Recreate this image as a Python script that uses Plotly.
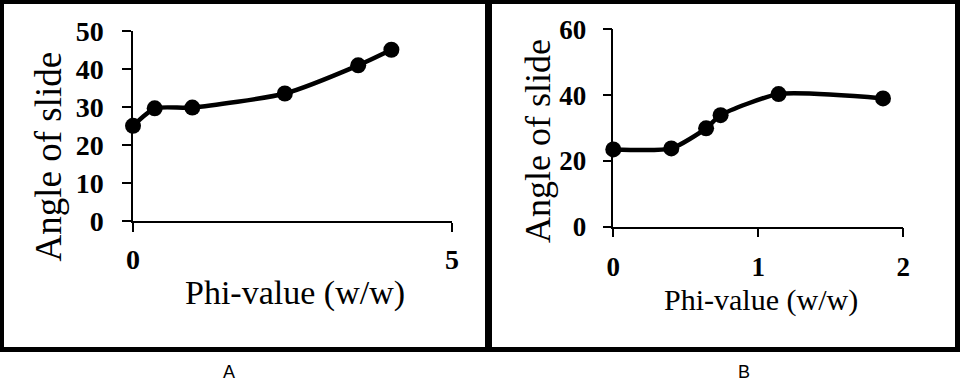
import plotly.graph_objects as go

# ---- data ----
a_phi = [0, 0.34, 0.93, 2.38, 3.53, 4.05]
a_angle = [25, 29.6, 29.8, 33.5, 40.9, 45]
b_phi = [0, 0.40, 0.64, 0.74, 1.14, 1.86]
b_angle = [23.5, 23.8, 29.9, 33.9, 40.3, 39]

x_title = "Phi-value (w/w)"
y_title = "Angle of slide"
panel_labels = ["A", "B"]

W, H = 960, 384
def px(x):
    return x / W
def py(y):
    return (H - y) / H

SERIF = "Liberation Serif, Times New Roman, serif"
SANS = "Liberation Sans, Arial, sans-serif"

fig = go.Figure()
trace_style = dict(mode="lines+markers", line=dict(color="black", width=4.5, shape="spline", smoothing=0.6),
                   marker=dict(color="black", size=16), cliponaxis=False, showlegend=False)
fig.add_trace(go.Scatter(x=a_phi, y=a_angle, xaxis="x", yaxis="y", **trace_style))
fig.add_trace(go.Scatter(x=b_phi, y=b_angle, xaxis="x2", yaxis="y2", **trace_style))

axis_common = dict(showline=True, linecolor="black", linewidth=1.5, showgrid=False,
                   zeroline=False, ticks="outside", ticklen=9, tickwidth=1.5, tickcolor="black",
                   fixedrange=True, automargin=False)

fig.update_layout(
    template="none",
    width=W, height=H, margin=dict(l=0, r=0, t=0, b=0, pad=0, autoexpand=False),
    paper_bgcolor="white", plot_bgcolor="white",
    xaxis=dict(domain=[px(133), px(452)], range=[0, 5], dtick=5, anchor="y",
               tickfont=dict(family=SERIF, size=28, color="black", weight="bold"),
               ticklabelstandoff=4, **axis_common),
    yaxis=dict(domain=[py(221), py(30.7)], range=[0, 50], dtick=10, anchor="x",
               tickfont=dict(family=SERIF, size=28, color="black", weight="bold"),
               ticklabelstandoff=13, **axis_common),
    xaxis2=dict(domain=[px(613.3), px(903.3)], range=[0, 2], dtick=1, anchor="y2",
                tickfont=dict(family=SERIF, size=27, color="black", weight="bold"),
                ticklabelstandoff=6, **axis_common),
    yaxis2=dict(domain=[py(226.7), py(29.3)], range=[0, 60], dtick=20, anchor="x2",
                tickfont=dict(family=SERIF, size=27, color="black", weight="bold"),
                ticklabelstandoff=11, **axis_common),
)

ann = []
ann.append(dict(x=px(295), y=py(293), text=x_title, font=dict(family=SERIF, size=34, color="black")))
ann.append(dict(x=px(761), y=py(300), text=x_title, font=dict(family=SERIF, size=30, color="black")))
ann.append(dict(x=px(47.5), y=py(157), text=y_title, textangle=-90, font=dict(family=SERIF, size=37, color="black")))
ann.append(dict(x=px(538), y=py(141), text=y_title, textangle=-90, font=dict(family=SERIF, size=36, color="black")))
ann.append(dict(x=px(229), y=py(371.5), text=panel_labels[0], font=dict(family=SANS, size=18, color="black")))
ann.append(dict(x=px(744), y=py(371.5), text=panel_labels[1], font=dict(family=SANS, size=18, color="black")))
for a in ann:
    a.update(xref="paper", yref="paper", showarrow=False, xanchor="center", yanchor="middle")
fig.update_layout(annotations=ann)

# frame (filled rectangles)
rects = [(0, 0, 4, 352), (0, 0, 960, 4), (955, 0, 960, 352), (0, 347, 960, 352), (485, 0, 492, 352)]
shapes = []
for x0, y0, x1, y1 in rects:
    shapes.append(dict(type="rect", xref="paper", yref="paper", x0=px(x0), x1=px(x1),
                       y0=py(y1), y1=py(y0), fillcolor="black", line=dict(width=0), layer="above"))
fig.update_layout(shapes=shapes)

fig.write_html("out.html", config={"displayModeBar": False},
               post_script="document.body.style.margin='0';document.body.style.overflow='hidden';")
